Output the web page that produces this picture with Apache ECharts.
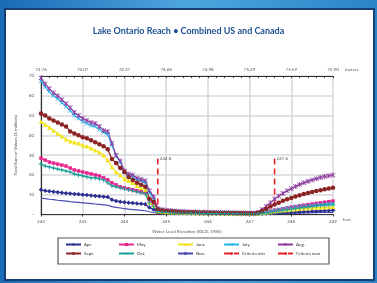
<!DOCTYPE html>
<html>
<head>
<meta charset="utf-8">
<script src="https://cdn.jsdelivr.net/npm/echarts@6/dist/echarts.min.js"></script>
<style>
  html, body { margin: 0; padding: 0; }
  #chart { width: 377px; height: 283px; }
</style>
</head>
<body>
<div id="chart"></div>
<script>
// elevation in feet (IGLD 1985), 0.1 ft steps
var elevation = [
  242.0, 242.1, 242.2, 242.3, 242.4, 242.5, 242.6, 242.7, 242.8, 242.9,
  243.0, 243.1, 243.2, 243.3, 243.4, 243.5, 243.6, 243.7, 243.8, 243.9,
  244.0, 244.1, 244.2, 244.3, 244.4, 244.5, 244.6, 244.7, 244.8, 244.9,
  245.0, 245.1, 245.2, 245.3, 245.4, 245.5, 245.6, 245.7, 245.8, 245.9,
  246.0, 246.1, 246.2, 246.3, 246.4, 246.5, 246.6, 246.7, 246.8, 246.9,
  247.0, 247.1, 247.2, 247.3, 247.4, 247.5, 247.6, 247.7, 247.8, 247.9,
  248.0, 248.1, 248.2, 248.3, 248.4, 248.5, 248.6, 248.7, 248.8, 248.9, 249.0
];
var feetTicks = [242, 243, 244, 245, 246, 247, 248, 249];
var meterLabels = ['73.76', '74.07', '74.37', '74.68', '74.98', '75.29', '75.59', '75.90'];

// total sum of values ($ millions) per month
var apr = [
  12.5, 12, 11.8, 11.5, 11.3, 11, 10.8, 10.6, 10.4, 10.2,
  10, 9.8, 9.6, 9.4, 9.2, 9, 8.8, 7.5, 6.8, 6.5,
  6.2, 6, 5.8, 5.6, 5.4, 5.2, 3.5, 2.5, 1.2, 1,
  0.9, 0.8, 0.8, 0.7, 0.7, 0.6, 0.6, 0.6, 0.5, 0.5,
  0.5, 0.5, 0.4, 0.4, 0.4, 0.4, 0.4, 0.3, 0.3, 0.3,
  0.3, 0.3, 0.3, 0.4, 0.5, 0.6, 0.7, 0.8, 0.9, 1,
  1.1, 1.2, 1.3, 1.4, 1.5, 1.6, 1.7, 1.8, 1.9, 2, 2.1
];
var may = [
  28.5, 27.5, 26.5, 26, 25.5, 25, 24.5, 23.5, 22.5, 22,
  21.5, 21, 20.5, 20, 19.5, 18.5, 17.5, 16, 15, 14,
  13.5, 13, 12.5, 12, 11.5, 11, 7.5, 5.5, 2, 1.5,
  1.3, 1.2, 1.1, 1, 1, 0.9, 0.9, 0.8, 0.8, 0.8,
  0.7, 0.7, 0.7, 0.6, 0.6, 0.6, 0.6, 0.5, 0.5, 0.5,
  0.5, 0.5, 0.6, 0.9, 1.3, 1.7, 2.1, 2.5, 2.9, 3.3,
  3.7, 4, 4.4, 4.7, 5, 5.3, 5.6, 5.9, 6.2, 6.5, 6.8
];
var june = [
  47, 45.5, 44, 42.5, 41, 39.5, 38, 37, 36.5, 36,
  35, 34.5, 33.5, 32.5, 31.5, 30, 27.5, 24, 21.5, 20,
  18, 17, 16, 14.5, 13.5, 12.5, 6, 4.5, 1.8, 1.5,
  1.3, 1.2, 1.1, 1, 1, 0.9, 0.9, 0.8, 0.8, 0.8,
  0.7, 0.7, 0.7, 0.6, 0.6, 0.6, 0.5, 0.5, 0.5, 0.5,
  0.4, 0.4, 0.5, 0.7, 1, 1.3, 1.6, 1.9, 2.1, 2.3,
  2.5, 2.7, 2.9, 3.1, 3.2, 3.4, 3.5, 3.6, 3.7, 3.8, 3.9
];
var july = [
  67.5, 64.5, 62, 60, 58.5, 56.5, 54.5, 52.5, 50, 48.5,
  47, 46, 45, 44.5, 43, 41.5, 40.5, 35, 29.5, 26.5,
  21.5, 19.5, 19, 17.5, 17, 16, 11, 8, 2.5, 2,
  1.8, 1.6, 1.4, 1.3, 1.2, 1.1, 1, 1, 0.9, 0.9,
  0.8, 0.8, 0.8, 0.7, 0.7, 0.7, 0.6, 0.6, 0.6, 0.5,
  0.5, 0.5, 0.6, 0.9, 1.3, 1.7, 2.1, 2.5, 2.9, 3.2,
  3.5, 3.8, 4, 4.2, 4.4, 4.6, 4.8, 5, 5.1, 5.2, 5.3
];
var aug = [
  69, 66, 63.5, 61.5, 60, 58, 56, 54, 51.5, 50,
  48.5, 47.5, 46.5, 46, 44.5, 42.5, 42, 36, 30, 27,
  22, 20.5, 20, 18.5, 17.8, 17, 12, 9, 3, 2.5,
  2.2, 2, 1.8, 1.6, 1.5, 1.4, 1.3, 1.3, 1.2, 1.2,
  1.1, 1.1, 1, 1, 1, 0.9, 0.9, 0.8, 0.8, 0.7,
  0.7, 0.6, 1.2, 2.5, 4.2, 6, 7.8, 9.3, 10.7, 12,
  13, 14.1, 15.1, 16, 16.8, 17.5, 18.1, 18.7, 19.2, 19.6, 20
];
var sept = [
  51, 50, 48.5, 47.5, 46.5, 45.5, 44.5, 42, 41, 40,
  39, 38.5, 37.5, 36.5, 35.5, 34.5, 33, 28, 26, 23.5,
  21.5, 19, 17.5, 16, 15, 14, 8, 6.5, 2.5, 2,
  1.8, 1.6, 1.5, 1.4, 1.3, 1.2, 1.1, 1.1, 1, 1,
  0.9, 0.9, 0.9, 0.8, 0.8, 0.8, 0.7, 0.7, 0.7, 0.6,
  0.6, 0.6, 0.9, 1.8, 2.9, 4, 5, 6, 6.9, 7.7,
  8.4, 9.1, 9.7, 10.3, 10.9, 11.4, 11.9, 12.3, 12.7, 13.1, 13.5
];
var oct = [
  25.5, 24.5, 24, 23.5, 23, 22.5, 22, 21.5, 20.5, 20,
  19.5, 19, 18.5, 18.5, 18, 17.5, 16, 14.5, 14, 13.5,
  13, 12.5, 12, 11.5, 11, 10.5, 6, 4, 1.5, 1.2,
  1, 0.9, 0.8, 0.8, 0.7, 0.7, 0.6, 0.6, 0.6, 0.5,
  0.5, 0.5, 0.5, 0.4, 0.4, 0.4, 0.4, 0.4, 0.3, 0.3,
  0.3, 0.3, 0.4, 0.6, 0.9, 1.2, 1.5, 1.8, 2.1, 2.4,
  2.7, 3, 3.3, 3.6, 3.9, 4.1, 4.4, 4.6, 4.8, 5, 5.2
];
var nov = [
  8.2, 8, 7.7, 7.5, 7.2, 7, 6.8, 6.5, 6.3, 6.1,
  5.9, 5.7, 5.5, 5.3, 5.1, 4.9, 4.7, 4, 3.6, 3.3,
  3, 2.7, 2.5, 2.3, 2.1, 1.9, 1.4, 1, 0.6, 0.5,
  0.5, 0.4, 0.4, 0.4, 0.3, 0.3, 0.3, 0.3, 0.3, 0.3,
  0.2, 0.2, 0.2, 0.2, 0.2, 0.2, 0.2, 0.2, 0.2, 0.2,
  0.2, 0.2, 0.2, 0.3, 0.3, 0.4, 0.4, 0.5, 0.5, 0.6,
  0.6, 0.7, 0.7, 0.8, 0.8, 0.9, 0.9, 1, 1, 1.1, 1.1
];

// criteria lines (feet) and their vertical extent
var criteriaMin = 244.8;
var criteriaMax = 247.6;
var criteriaTop = 30;

var months = [
  {name: 'Apr.',  data: apr,  color: '#2b2f8f', symbol: 'diamond',  size: 4.5},
  {name: 'May',   data: may,  color: '#e8268f', symbol: 'rect',     size: 3.5},
  {name: 'June',  data: june, color: '#f2e41a', symbol: 'triangle', size: 4.5},
  {name: 'July',  data: july, color: '#1fb4ea', symbol: 'path://M0,1L1,0L5,4L9,0L10,1L6,5L10,9L9,10L5,6L1,10L0,9L4,5Z', size: 4.5},
  {name: 'Aug.',  data: aug,  color: '#8e3a9e', symbol: 'path://M0,1L1,0L5,4L9,0L10,1L6,5L10,9L9,10L5,6L1,10L0,9L4,5ZM4.3,0H5.7V10H4.3Z', size: 5},
  {name: 'Sept.', data: sept, color: '#8b2323', symbol: 'circle',   size: 4.5},
  {name: 'Oct.',  data: oct,  color: '#1a9e98', symbol: 'path://M4,0H6V4H10V6H6V10H4V6H0V4H4Z', size: 4.5},
  {name: 'Nov.',  data: nov,  color: '#4a4ab4', symbol: 'none',     size: 0}
];

var chart = echarts.init(document.getElementById('chart'));
var fontFam = 'Lato, "Open Sans", sans-serif';
var tickColor = '#555';

var series = months.map(function (m) {
  return {
    name: m.name,
    type: 'line',
    xAxisIndex: 0,
    yAxisIndex: 0,
    data: elevation.map(function (e, i) { return [e, m.data[i]]; }),
    symbol: m.symbol,
    symbolSize: m.size,
    showAllSymbol: true,
    color: m.color,
    lineStyle: {width: 1.2, color: m.color},
    itemStyle: {color: m.color},
    animation: false
  };
});

function criteriaSeries(name, x) {
  return {
    name: name,
    type: 'line',
    data: [[x, 0], [x, criteriaTop]],
    symbol: 'none',
    color: '#e8232b',
    lineStyle: {width: 1.6, type: [6, 4], color: '#e8232b'},
    endLabel: {
      show: true, distance: 2, offset: [0, 3],
      formatter: String(x), fontSize: 4.5, color: '#555', fontFamily: fontFam
    },
    z: 1,
    animation: false
  };
}
series.push(criteriaSeries('Criteria min', criteriaMin));
series.push(criteriaSeries('Criteria max', criteriaMax));

// legend: 5 columns x 2 rows inside a framed box
var legendCols = [65, 118, 177, 223, 277];
var legendRows = [242, 251];
var legendNames = ['Apr.', 'May', 'June', 'July', 'Aug.', 'Sept.', 'Oct.', 'Nov.', 'Criteria min', 'Criteria max'];
var legends = legendNames.map(function (n, i) {
  return {
    data: [n],
    left: legendCols[i % 5],
    top: legendRows[Math.floor(i / 5)],
    itemWidth: 15,
    itemHeight: 4,
    itemGap: 0,
    padding: 0,
    textStyle: {fontSize: 4.5, color: '#333', fontFamily: fontFam, padding: [0, 0, 0, -2]},
    selectedMode: false
  };
});

var option = {
  backgroundColor: new echarts.graphic.LinearGradient(0, 0, 1, 0, [
    {offset: 0, color: '#1b6cb6'},
    {offset: 0.5, color: '#4ea6de'},
    {offset: 1, color: '#2a84c6'}
  ]),
  textStyle: {fontFamily: fontFam},
  title: {
    text: 'Lake Ontario Reach \u2022 Combined US and Canada',
    left: 'center',
    top: 22,
    textStyle: {fontSize: 9, fontWeight: 'bold', color: '#1d4f91', fontFamily: fontFam}
  },
  graphic: [
    {type: 'rect', z: -10, shape: {x: 5, y: 9, width: 369, height: 271},
     style: {fill: '#fff', stroke: '#163e74', lineWidth: 2}},
    {type: 'rect', z: 10, shape: {x: 58, y: 238, width: 271, height: 26},
     style: {fill: 'none', stroke: '#5a5a5a', lineWidth: 1.2}},
    {type: 'text', left: 345, top: 67, style: {text: 'meters', fill: tickColor, font: '4.5px Lato'}},
    {type: 'text', left: 343, top: 217, style: {text: 'feet', fill: tickColor, font: '4.5px Lato'}}
  ],
  legend: legends,
  grid: {left: 41, right: 44, top: 76, bottom: 68.5},
  xAxis: [
    {
      type: 'value', position: 'bottom', min: 242, max: 249, interval: 1,
      name: 'Water Level Elevation (IGLD, 1985)',
      nameLocation: 'middle', nameGap: 15,
      nameTextStyle: {fontSize: 4.5, color: tickColor},
      axisLine: {lineStyle: {color: '#333', width: 1.2}},
      axisTick: {show: true, length: 2, lineStyle: {color: '#333'}},
      axisLabel: {
        fontSize: 4.5, color: tickColor, margin: 5,
        formatter: function (v) { return feetTicks.indexOf(v) >= 0 ? String(v) : ''; }
      },
      splitLine: {show: true, lineStyle: {color: '#d6d6dc', width: 1.5}}
    },
    {
      type: 'value', position: 'top', min: 242, max: 249, interval: 1,
      axisLine: {onZero: false, lineStyle: {color: '#333', width: 1.2}},
      axisTick: {show: true, inside: true, length: 2, lineStyle: {color: '#333'}},
      minorTick: {show: true, splitNumber: 5, length: 2, lineStyle: {color: '#333'}},
      axisLabel: {
        fontSize: 4.5, color: tickColor, margin: 4,
        formatter: function (v) { return meterLabels[Math.round(v - 242)]; }
      },
      splitLine: {show: false}
    }
  ],
  yAxis: {
    type: 'value', min: 0, max: 70, interval: 10,
    name: 'Total Sum of Values ($ millions)',
    nameLocation: 'middle', nameGap: 21,
    nameTextStyle: {fontSize: 4.5, color: tickColor},
    axisLine: {show: true, lineStyle: {color: '#333', width: 1.2}},
    axisTick: {show: false},
    axisLabel: {
      fontSize: 4.5, color: tickColor, margin: 7,
      formatter: function (v) { return v === 0 ? '-' : String(v); }
    },
    splitLine: {show: true, lineStyle: {color: '#d6d6dc', width: 1.5}}
  },
  series: series
};

chart.setOption(option);
window.onresize = function () { chart.resize(); };
</script>
</body>
</html>
